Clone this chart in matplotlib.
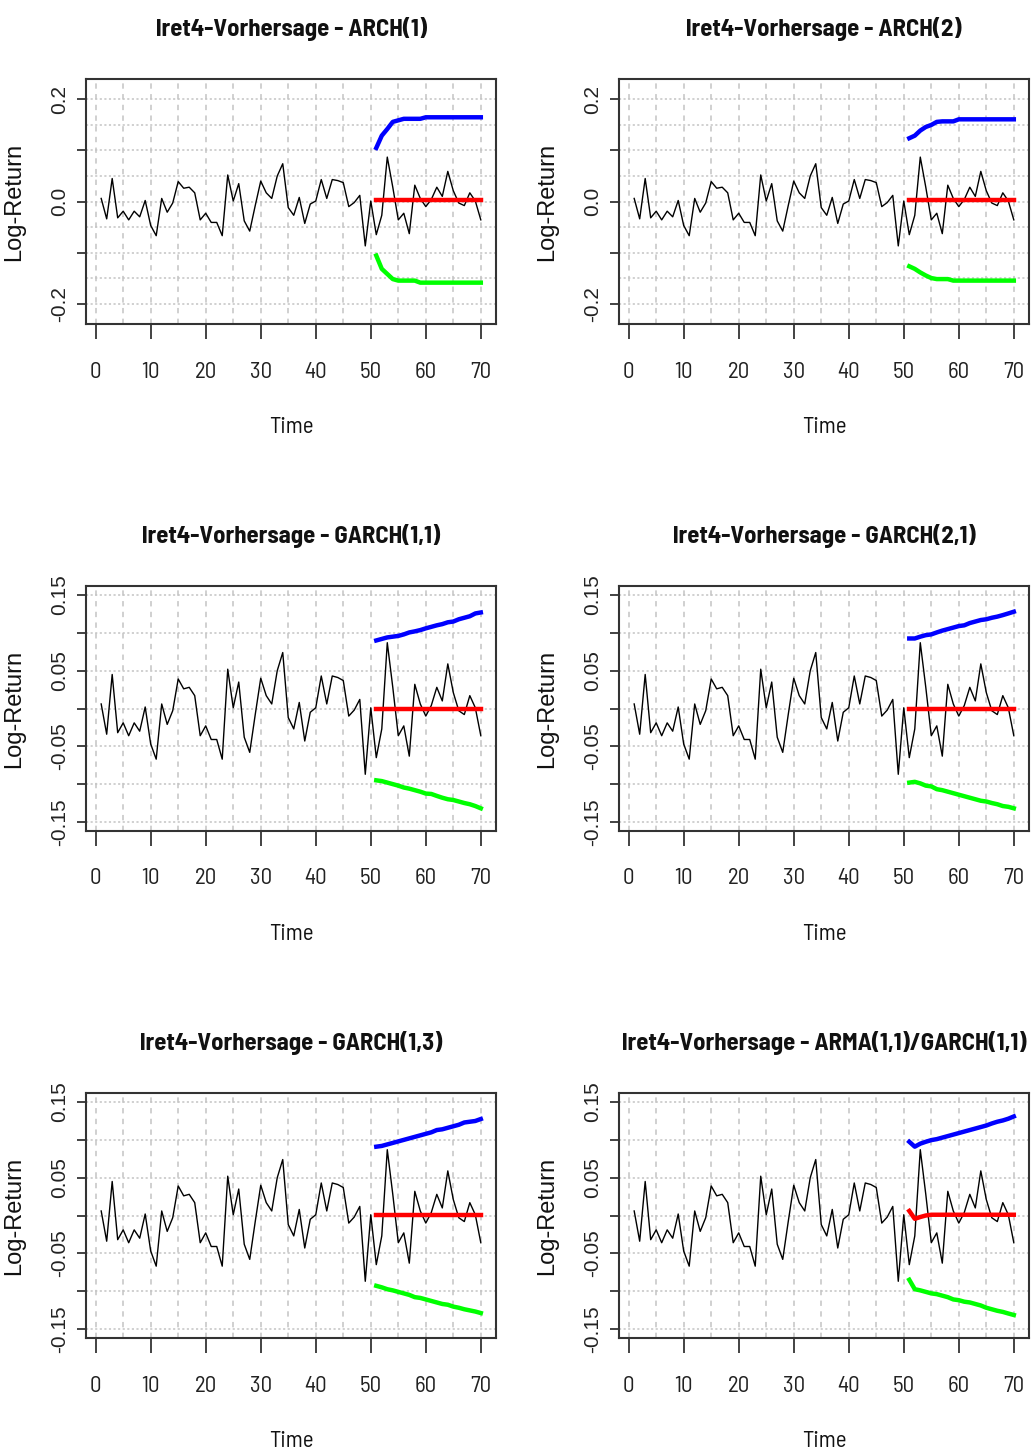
import os
import matplotlib
matplotlib.use('Agg')
import matplotlib.pyplot as plt
from matplotlib import font_manager
from matplotlib.font_manager import FontProperties

# beobachtete Log-Returns lret4, t = 1..70
time = list(range(1, 71))
lret4 = [0.006, -0.034, 0.045, -0.032, -0.019, -0.036, -0.019, -0.030, 0.002, -0.047,
         -0.067, 0.006, -0.021, -0.003, 0.039, 0.026, 0.028, 0.017, -0.036, -0.023,
         -0.041, -0.041, -0.067, 0.052, 0.001, 0.035, -0.038, -0.058, -0.008, 0.040,
         0.017, 0.006, 0.050, 0.074, -0.012, -0.027, 0.008, -0.043, -0.005, 0.001,
         0.043, 0.006, 0.043, 0.041, 0.037, -0.010, -0.002, 0.012, -0.087, 0.001,
         -0.065, -0.027, 0.087, 0.028, -0.036, -0.023, -0.063, 0.032, 0.006, -0.010,
         0.004, 0.028, 0.010, 0.059, 0.021, -0.003, -0.008, 0.017, 0.001, -0.036]

# Vorhersagehorizont t = 51..70
fc_time = list(range(51, 71))

arch1_upper = [0.105, 0.129, 0.142, 0.156, 0.159, 0.162, 0.162, 0.162, 0.162, 0.165,
               0.165, 0.165, 0.165, 0.165, 0.165, 0.165, 0.165, 0.165, 0.165, 0.165]
arch1_mean = [0.002] * 20
arch1_lower = [-0.106, -0.132, -0.142, -0.152, -0.155, -0.155, -0.155, -0.155, -0.159, -0.159,
               -0.159, -0.159, -0.159, -0.159, -0.159, -0.159, -0.159, -0.159, -0.159, -0.159]

arch2_upper = [0.124, 0.129, 0.139, 0.146, 0.150, 0.156, 0.157, 0.157, 0.157, 0.161,
               0.161, 0.161, 0.161, 0.161, 0.161, 0.161, 0.161, 0.161, 0.161, 0.161]
arch2_mean = [0.002] * 20
arch2_lower = [-0.127, -0.132, -0.139, -0.145, -0.150, -0.152, -0.152, -0.152, -0.155, -0.155,
               -0.155, -0.155, -0.155, -0.155, -0.155, -0.155, -0.155, -0.155, -0.155, -0.155]

garch11_upper = [0.090, 0.092, 0.094, 0.095, 0.096, 0.098, 0.1006, 0.102, 0.1037, 0.106,
                 0.108, 0.110, 0.1116, 0.114, 0.115, 0.118, 0.120, 0.122, 0.1257, 0.127]
garch11_mean = [0.0] * 20
garch11_lower = [-0.095, -0.096, -0.098, -0.100, -0.102, -0.1045, -0.106, -0.108, -0.110, -0.1125,
                 -0.113, -0.1156, -0.118, -0.120, -0.121, -0.123, -0.125, -0.1266, -0.129, -0.132]

garch21_upper = [0.0926, 0.0926, 0.095, 0.097, 0.098, 0.1006, 0.103, 0.105, 0.107, 0.109,
                 0.110, 0.113, 0.115, 0.117, 0.118, 0.120, 0.1215, 0.1235, 0.1257, 0.128]
garch21_mean = [0.0] * 20
garch21_lower = [-0.098, -0.097, -0.099, -0.102, -0.103, -0.1067, -0.108, -0.110, -0.112, -0.114,
                 -0.116, -0.118, -0.120, -0.122, -0.123, -0.125, -0.1266, -0.129, -0.130, -0.132]

garch13_upper = [0.091, 0.092, 0.094, 0.096, 0.098, 0.100, 0.102, 0.104, 0.106, 0.108,
                 0.110, 0.113, 0.114, 0.116, 0.118, 0.120, 0.123, 0.124, 0.125, 0.1276]
garch13_mean = [0.001] * 20
garch13_lower = [-0.093, -0.095, -0.0975, -0.099, -0.101, -0.103, -0.105, -0.108, -0.109, -0.111,
                 -0.113, -0.115, -0.117, -0.118, -0.1205, -0.122, -0.124, -0.1255, -0.127, -0.129]

armagarch_upper = [0.0975, 0.091, 0.095, 0.0975, 0.0997, 0.101, 0.103, 0.105, 0.107, 0.109,
                   0.111, 0.113, 0.115, 0.117, 0.119, 0.1217, 0.124, 0.1257, 0.128, 0.131]
armagarch_mean = [0.006, -0.0044, -0.002, 0.0, 0.001, 0.001, 0.001, 0.001, 0.001, 0.001,
                  0.001, 0.001, 0.001, 0.001, 0.001, 0.001, 0.001, 0.001, 0.001, 0.001]
armagarch_lower = [-0.085, -0.0975, -0.099, -0.101, -0.103, -0.104, -0.106, -0.108, -0.111, -0.112,
                   -0.114, -0.115, -0.117, -0.119, -0.122, -0.124, -0.126, -0.1275, -0.1296, -0.1316]

models = ['ARCH(1)', 'ARCH(2)', 'GARCH(1,1)', 'GARCH(2,1)', 'GARCH(1,3)', 'ARMA(1,1)/GARCH(1,1)']
uppers = [arch1_upper, arch2_upper, garch11_upper, garch21_upper, garch13_upper, armagarch_upper]
means = [arch1_mean, arch2_mean, garch11_mean, garch21_mean, garch13_mean, armagarch_mean]
lowers = [arch1_lower, arch2_lower, garch11_lower, garch21_lower, garch13_lower, armagarch_lower]

xticks = [0, 10, 20, 30, 40, 50, 60, 70]
yticks_wide = [-0.2, -0.1, 0.0, 0.1, 0.2]
ylabels_wide = ['-0.2', '', '0.0', '', '0.2']
yticks_narrow = [-0.15, -0.10, -0.05, 0.0, 0.05, 0.10, 0.15]
ylabels_narrow = ['-0.15', '', '-0.05', '', '0.05', '', '0.15']

GRID = '#c4c4c4'
LONG_TITLE = 'lret4-Vorhersage - ' + models[-1]
WEIGHT_WORDS = ['bold', 'light', 'thin', 'black', 'medium', 'heavy', 'italic', 'oblique']


def measure(fig, text, font, size=20):
    probe = fig.text(0, 0, text, fontproperties=font, fontsize=size)
    width = probe.get_window_extent(fig.canvas.get_renderer()).width
    probe.remove()
    return width


def condensed_groups():
    # schmale Sans-Schriften nach Datei-Stamm gruppieren: {stamm: {'bold': pfad, 'regular': pfad}}
    groups = {}
    for f in font_manager.fontManager.ttflist:
        stem = os.path.splitext(os.path.basename(f.fname))[0].lower()
        if not ('narrow' in stem or 'condensed' in stem or 'cond' in stem):
            continue
        if 'mono' in stem or 'serif' in stem.replace('sans', ''):
            continue
        if 'italic' in stem or 'oblique' in stem:
            continue
        core = stem.replace('regular', '')
        if 'bold' in stem:
            if any(w in stem for w in ['semibold', 'extrabold', 'demibold', 'ultrabold']):
                continue
            key, kind = core.replace('bold', '').strip('-_ '), 'bold'
        elif any(w in stem for w in WEIGHT_WORDS):
            continue
        else:
            key, kind = core.strip('-_ '), 'regular'
        groups.setdefault(key, {})[kind] = f.fname
    return groups


def choose_fonts(fig):
    best = None
    for key, g in condensed_groups().items():
        if 'bold' not in g or 'regular' not in g:
            continue
        bold = FontProperties(fname=g['bold'])
        size = 20 * 405 / measure(fig, LONG_TITLE, bold)
        score = abs(size - 18)
        if best is None or score < best[0]:
            best = (score, bold, FontProperties(fname=g['regular']), size)
    if best is None:
        bold = FontProperties(family='Liberation Sans', weight='bold')
        size = 20 * 405 / measure(fig, LONG_TITLE, bold)
        return bold, FontProperties(family='Liberation Sans'), size
    return best[1], best[2], best[3]


def draw_panel(ax, title, upper, mean, lower, wide, fonts):
    title_font, tick_font, label_font, title_size = fonts
    if wide:
        ylim = 0.24
        yticks, ylabels = yticks_wide, ylabels_wide
        hgrid = [-0.2, -0.15, -0.1, -0.05, 0.0, 0.05, 0.1, 0.15, 0.2]
    else:
        ylim = 0.162
        yticks, ylabels = yticks_narrow, ylabels_narrow
        hgrid = yticks_narrow

    for y in hgrid:
        ax.axhline(y, color=GRID, lw=1.1, ls=(0, (1.4, 1.6)), zorder=1)
    for x in range(0, 75, 5):
        ax.axvline(x, color=GRID, lw=1.1, ls=(0, (3.5, 3.5)), zorder=1)

    ax.plot(time, lret4, color='black', lw=1.0, zorder=3)
    ax.plot(fc_time, upper, color='#0000ff', lw=3.2, zorder=4)
    ax.plot(fc_time, mean, color='#ff0000', lw=3.2, zorder=4)
    ax.plot(fc_time, lower, color='#00ff00', lw=3.2, zorder=4)

    ax.set_xlim(-1.76, 72.76)
    ax.set_ylim(-ylim, ylim)

    ax.set_xticks(xticks)
    ax.set_xticklabels([str(v) for v in xticks], fontproperties=tick_font, fontsize=16.5)
    ax.set_yticks(yticks)
    ax.set_yticklabels(ylabels, fontproperties=label_font, fontsize=15, rotation=90, va='center')
    ax.tick_params(axis='x', length=11, width=1.2, pad=16, colors='#222222')
    ax.tick_params(axis='y', length=6.5, width=1.2, pad=6, colors='#222222')

    for s in ax.spines.values():
        s.set_linewidth(1.5)
        s.set_color('#333333')

    ax.set_title(f'lret4-Vorhersage - {title}', fontproperties=title_font,
                 fontsize=title_size, pad=31, color='#111111')
    ax.set_xlabel('Time', fontproperties=tick_font, fontsize=16.5, labelpad=25, color='#111111')
    ax.set_ylabel('Log-Return', fontproperties=label_font, fontsize=17, labelpad=18, color='#111111')


fig = plt.figure(figsize=(10.32, 14.53), dpi=100)
col_x = [86 / 1032, 619 / 1032]
row_y = [1 - 324 / 1453, 1 - 831 / 1453, 1 - 1338 / 1453]
w = 410 / 1032
h = 245 / 1453

title_font, tick_font, title_size = choose_fonts(fig)
fonts = (title_font, tick_font, FontProperties(family='Liberation Sans'), min(title_size, 19))

for i, model in enumerate(models):
    r, c = divmod(i, 2)
    ax = fig.add_axes([col_x[c], row_y[r], w, h])
    draw_panel(ax, model, uppers[i], means[i], lowers[i], wide=(r == 0), fonts=fonts)

fig.savefig('out.png', dpi=100)
plt.close(fig)
